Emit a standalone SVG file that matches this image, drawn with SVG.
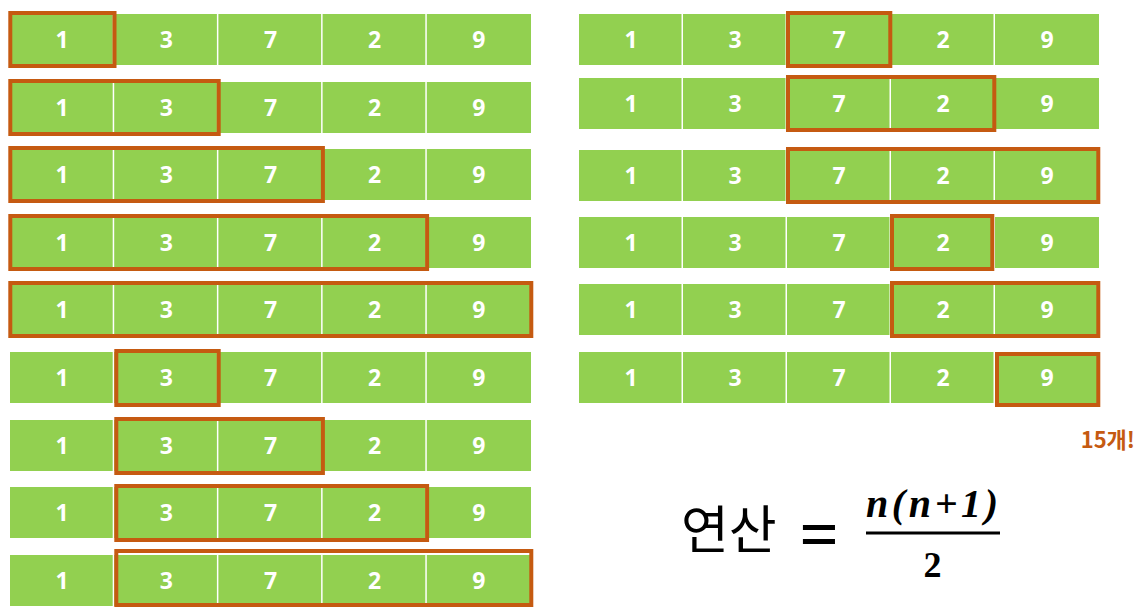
<svg xmlns="http://www.w3.org/2000/svg" width="1147" height="616" viewBox="0 0 1147 616">
<style>
.c{fill:#92D050}
.t{fill:#fff;font-family:"Noto Sans","Liberation Sans",sans-serif;font-weight:bold;font-size:23px;text-anchor:middle}
.b{fill:none;stroke:#C55A11;stroke-width:4}
</style>
<rect width="1147" height="616" fill="#fff"/>
<defs>
<g id="rowL">
<rect class="c" x="0" y="0" width="102.7" height="51"/>
<rect class="c" x="104.2" y="0" width="102.7" height="51"/>
<rect class="c" x="208.4" y="0" width="102.7" height="51"/>
<rect class="c" x="312.6" y="0" width="102.7" height="51"/>
<rect class="c" x="416.8" y="0" width="104.2" height="51"/>
<text class="t" x="52.1" y="34.3">1</text>
<text class="t" x="156.3" y="34.3">3</text>
<text class="t" x="260.5" y="34.3">7</text>
<text class="t" x="364.7" y="34.3">2</text>
<text class="t" x="468.9" y="34.3">9</text>
</g>
<g id="rowR">
<rect class="c" x="0" y="0" width="102.5" height="51"/>
<rect class="c" x="104" y="0" width="102.5" height="51"/>
<rect class="c" x="208" y="0" width="102.5" height="51"/>
<rect class="c" x="312" y="0" width="102.5" height="51"/>
<rect class="c" x="416" y="0" width="104" height="51"/>
<text class="t" x="52" y="34.3">1</text>
<text class="t" x="156" y="34.3">3</text>
<text class="t" x="260" y="34.3">7</text>
<text class="t" x="364" y="34.3">2</text>
<text class="t" x="468" y="34.3">9</text>
</g>
</defs>
<g id="left-row-1"><use href="#rowL" x="10" y="14"/><rect class="b" x="10.3" y="13" width="104.2" height="53"/></g>
<g id="left-row-2"><use href="#rowL" x="10" y="82"/><rect class="b" x="10.3" y="81" width="208.4" height="53"/></g>
<g id="left-row-3"><use href="#rowL" x="10" y="149"/><rect class="b" x="10.3" y="148" width="312.6" height="53"/></g>
<g id="left-row-4"><use href="#rowL" x="10" y="217"/><rect class="b" x="10.3" y="216" width="416.8" height="53"/></g>
<g id="left-row-5"><use href="#rowL" x="10" y="284"/><rect class="b" x="10.3" y="283" width="521" height="53"/></g>
<g id="left-row-6"><use href="#rowL" x="10" y="352"/><rect class="b" x="116.3" y="351" width="102.4" height="54"/></g>
<g id="left-row-7"><use href="#rowL" x="10" y="420"/><rect class="b" x="116.3" y="419" width="206.6" height="54"/></g>
<g id="left-row-8"><use href="#rowL" x="10" y="487"/><rect class="b" x="116.3" y="486" width="310.8" height="54"/></g>
<g id="left-row-9"><use href="#rowL" x="10" y="555"/><rect class="b" x="116.3" y="551" width="415" height="54"/></g>
<g id="right-row-1"><use href="#rowR" x="579" y="14"/><rect class="b" x="788" y="13" width="102.3" height="53"/></g>
<g id="right-row-2"><use href="#rowR" x="579" y="78"/><rect class="b" x="788" y="77" width="206.3" height="53"/></g>
<g id="right-row-3"><use href="#rowR" x="579" y="150"/><rect class="b" x="788" y="149" width="310.3" height="53"/></g>
<g id="right-row-4"><use href="#rowR" x="579" y="217"/><rect class="b" x="892" y="216" width="100.3" height="53"/></g>
<g id="right-row-5"><use href="#rowR" x="579" y="284"/><rect class="b" x="892" y="283" width="206.3" height="53"/></g>
<g id="right-row-6"><use href="#rowR" x="579" y="352"/><rect class="b" x="997" y="354" width="101.3" height="51"/></g>
<g id="count"><text x="1135" y="448" fill="#C55A11" font-family="'Noto Sans CJK KR',sans-serif" font-weight="bold" font-size="22" text-anchor="end">15개!</text></g>
<g id="formula">
<text x="681" y="549" font-family="'Noto Sans CJK KR',sans-serif" font-size="52" fill="#000">연산</text>
<text x="819" y="559" font-family="'Noto Sans',sans-serif" font-size="70" fill="#000" text-anchor="middle">=</text>
<text x="866" y="517" font-family="'Liberation Serif',serif" font-weight="bold" font-style="italic" font-size="40" textLength="132" lengthAdjust="spacing" fill="#000">n(n+1)</text>
<rect x="866" y="531.5" width="134" height="3" fill="#000"/>
<text x="932.5" y="577" font-family="'Liberation Serif',serif" font-weight="bold" font-size="36" text-anchor="middle" fill="#000">2</text>
</g>
</svg>
